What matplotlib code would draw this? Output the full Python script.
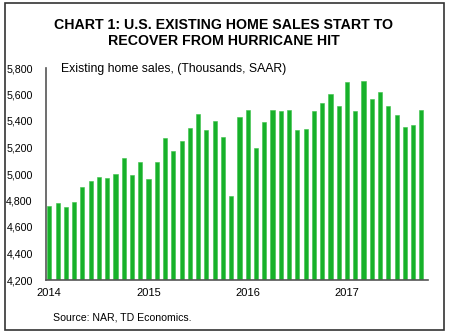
import matplotlib
matplotlib.use('Agg')
import matplotlib.pyplot as plt
from matplotlib.patches import Rectangle

plt.rcParams['font.family'] = ['Liberation Sans', 'DejaVu Sans']

# monthly existing home sales, Jan 2014 - Oct 2017 (thousands, SAAR)
sales = [4760, 4780, 4750, 4790, 4900, 4945, 4980, 4972, 5002, 5121, 4990, 5090,
         4962, 5090, 5269, 5171, 5249, 5350, 5450, 5332, 5400, 5282, 4834, 5433,
         5483, 5199, 5392, 5483, 5473, 5483, 5332, 5342, 5473, 5533, 5606, 5510,
         5692, 5473, 5702, 5564, 5621, 5510, 5442, 5352, 5372, 5483]
year_labels = ['2014', '2015', '2016', '2017']
y_ticks = [4200, 4400, 4600, 4800, 5000, 5200, 5400, 5600, 5800]

fig = plt.figure(figsize=(4.5, 3.35), dpi=100)
fig.patches.append(Rectangle((5 / 450, 1 - 330 / 335), 439 / 450, 327 / 335,
                             transform=fig.transFigure, fill=False,
                             edgecolor='#333333', linewidth=1.2))

ax = fig.add_axes([46 / 450, 1 - 280 / 335, 382 / 450, 212 / 335])
x = list(range(len(sales)))
ax.bar(x, [v - 4200 for v in sales], bottom=4200, width=0.5,
       color='#17b12a', edgecolor='#3cc24a', linewidth=0.4)

ax.set_ylim(4200, 5800)
ax.set_xlim(-0.4, 45.8)
ax.set_yticks(y_ticks)
ax.set_yticklabels([f'{v:,}' for v in y_ticks])
ax.set_xticks([0, 12, 24, 36])
ax.set_xticklabels(year_labels)
ax.tick_params(axis='both', length=0, labelsize=8, colors='black')
ax.tick_params(axis='y', pad=9.5, labelsize=7.7)
ax.tick_params(axis='x', pad=6)
for side in ['top', 'right']:
    ax.spines[side].set_visible(False)
for side in ['left', 'bottom']:
    ax.spines[side].set_color('#555555')
    ax.spines[side].set_linewidth(1.2)

fig.text(224 / 450, 1 - 33 / 335,
         'CHART 1: U.S. EXISTING HOME SALES START TO\nRECOVER FROM HURRICANE HIT',
         ha='center', va='center', fontsize=10.2, fontweight='bold', linespacing=1.1)
fig.text(61 / 450, 1 - 69 / 335, 'Existing home sales, (Thousands, SAAR)',
         ha='left', va='center', fontsize=8.8)
fig.text(53 / 450, 1 - 318 / 335, 'Source: NAR, TD Economics.',
         ha='left', va='center', fontsize=7.6)

fig.savefig('out.png', dpi=100)
